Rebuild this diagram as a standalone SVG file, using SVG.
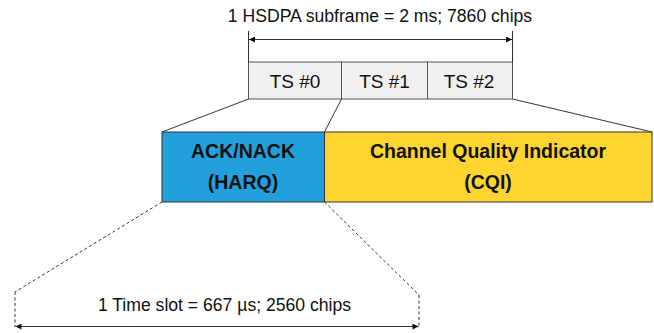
<svg xmlns="http://www.w3.org/2000/svg" width="654" height="333" viewBox="0 0 654 333">
<defs>
<marker id="ah" viewBox="0 0 10 10" refX="10" refY="5" markerWidth="8" markerHeight="6" orient="auto-start-reverse" markerUnits="userSpaceOnUse">
<path d="M0,0 L10,5 L0,10 z" fill="#111"/>
</marker>
<style>
.t{font-family:"Liberation Sans",Arial,sans-serif;fill:#111;text-anchor:middle}
.b{font-weight:bold;font-size:19.5px}
.ln{stroke:#333;stroke-width:1;fill:none}
.dl{stroke:#333;stroke-width:1;fill:none;stroke-dasharray:3,2.5}
.ts{fill:#f0f0f0;stroke:#555;stroke-width:1}
</style>
</defs>
<rect width="654" height="333" fill="#fff"/>
<g id="ts0"><rect class="ts" x="248.5" y="62" width="93" height="37"/><text class="t" x="295" y="88.3" font-size="19">TS #0</text></g>
<g id="ts1"><rect class="ts" x="341.5" y="62" width="86" height="37"/><text class="t" x="384.5" y="88.3" font-size="19">TS #1</text></g>
<g id="ts2"><rect class="ts" x="427.5" y="62" width="85" height="37"/><text class="t" x="469" y="88.3" font-size="19">TS #2</text></g>
<g id="ack"><rect x="162" y="132" width="162.5" height="70" fill="#22a0db" stroke="#333" stroke-width="1"/><text class="t b" x="243" y="157.5">ACK/NACK</text><text class="t b" x="243" y="189">(HARQ)</text></g>
<g id="cqi"><rect x="324.5" y="132" width="327.5" height="70" fill="#fed530" stroke="#333" stroke-width="1"/><text class="t b" x="488" y="157.5">Channel Quality Indicator</text><text class="t b" x="488" y="189">(CQI)</text></g>
<g id="labels">
<text class="t" x="380" y="22.3" font-size="17.6">1 HSDPA subframe = 2 ms; 7860 chips</text>
<text class="t" x="224.5" y="311" font-size="17.6">1 Time slot = 667 µs; 2560 chips</text>
</g>
<g id="connectors">
<line class="ln" x1="248.5" y1="31" x2="248.5" y2="62"/>
<line class="ln" x1="512.5" y1="31" x2="512.5" y2="62"/>
<line class="ln" x1="249" y1="39.5" x2="512" y2="39.5" marker-start="url(#ah)" marker-end="url(#ah)"/>
<line class="ln" x1="248.5" y1="99" x2="162" y2="132"/>
<line class="ln" x1="341.5" y1="99" x2="324.5" y2="132"/>
<line class="ln" x1="512.5" y1="99" x2="652" y2="132"/>
<line class="dl" x1="162" y1="202" x2="15" y2="292"/>
<line class="dl" x1="324.5" y1="202" x2="419" y2="295"/>
<line class="dl" x1="15" y1="292" x2="15" y2="327"/>
<line class="dl" x1="419" y1="295" x2="419" y2="327"/>
<line class="ln" x1="15.5" y1="326.5" x2="418.5" y2="326.5" marker-start="url(#ah)" marker-end="url(#ah)"/>
</g>
</svg>
